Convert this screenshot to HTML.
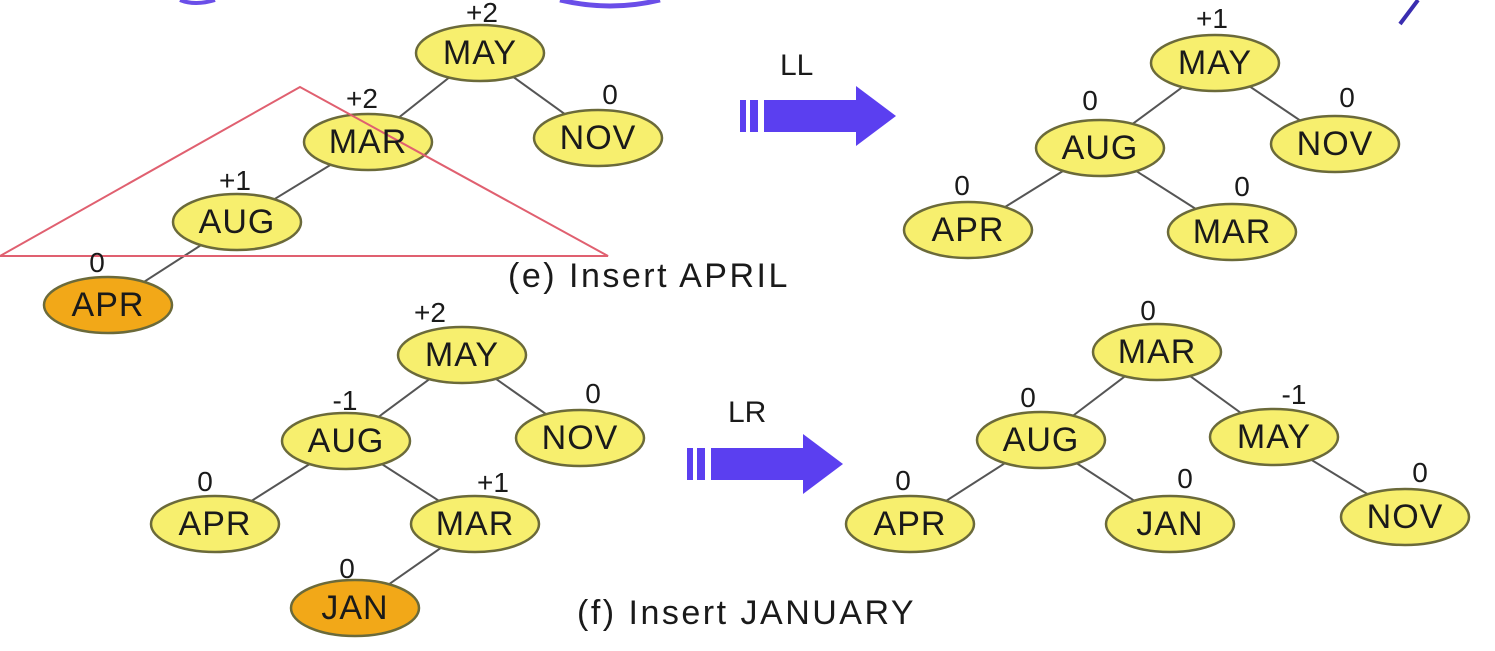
<!DOCTYPE html>
<html><head><meta charset="utf-8"><style>
html,body{margin:0;padding:0;background:#fff;}
svg{display:block;}
text{font-family:"Liberation Sans",sans-serif;fill:#1a1a1a;}
.n{font-size:34px;text-anchor:middle;dominant-baseline:central;letter-spacing:1px;}
.b{font-size:28px;text-anchor:middle;}
.c{font-size:34px;letter-spacing:2.5px;}
</style></head><body>
<svg width="1495" height="651" viewBox="0 0 1495 651" xmlns="http://www.w3.org/2000/svg">
<defs>
<g id="arrow">
<rect x="0" y="0" width="6" height="32" fill="#5b3ff0"/>
<rect x="10" y="0" width="8" height="32" fill="#5b3ff0"/>
<rect x="24" y="0" width="94" height="32" fill="#5b3ff0"/>
<polygon points="116,-14 156,16 116,46" fill="#5b3ff0"/>
</g>
</defs>
<path d="M180 0 Q195 6 215 0" stroke="#6a4ee8" stroke-width="4" fill="none"/>
<path d="M560 0 Q610 12 660 0" stroke="#6a4ee8" stroke-width="5" fill="none"/>
<path d="M1418 0 L1400 24" stroke="#3a2db0" stroke-width="4" fill="none"/>

<g stroke="#555" stroke-width="2" fill="none">
<line x1="480" y1="53" x2="368" y2="142"/><line x1="480" y1="53" x2="598" y2="138"/>
<line x1="368" y1="142" x2="237" y2="222"/><line x1="237" y1="222" x2="108" y2="305"/>
<line x1="1215" y1="63" x2="1100" y2="148"/><line x1="1215" y1="63" x2="1335" y2="144"/>
<line x1="1100" y1="148" x2="968" y2="230"/><line x1="1100" y1="148" x2="1232" y2="232"/>
<line x1="462" y1="355" x2="346" y2="441"/><line x1="462" y1="355" x2="580" y2="438"/>
<line x1="346" y1="441" x2="215" y2="524"/><line x1="346" y1="441" x2="475" y2="524"/>
<line x1="475" y1="524" x2="355" y2="608"/>
<line x1="1157" y1="352" x2="1041" y2="440"/><line x1="1157" y1="352" x2="1274" y2="437"/>
<line x1="1041" y1="440" x2="910" y2="524"/><line x1="1041" y1="440" x2="1170" y2="524"/>
<line x1="1274" y1="437" x2="1405" y2="517"/>
</g>

<g stroke="#6b6a3a" stroke-width="2.5" fill="#f7ef6e">
<ellipse cx="480" cy="53" rx="64" ry="28"/>
<ellipse cx="368" cy="142" rx="64" ry="28"/>
<ellipse cx="598" cy="138" rx="64" ry="28"/>
<ellipse cx="237" cy="222" rx="64" ry="28"/>
<ellipse cx="108" cy="305" rx="64" ry="28" fill="#f2a818"/>
<ellipse cx="1215" cy="63" rx="64" ry="28"/>
<ellipse cx="1100" cy="148" rx="64" ry="28"/>
<ellipse cx="1335" cy="144" rx="64" ry="28"/>
<ellipse cx="968" cy="230" rx="64" ry="28"/>
<ellipse cx="1232" cy="232" rx="64" ry="28"/>
<ellipse cx="462" cy="355" rx="64" ry="28"/>
<ellipse cx="346" cy="441" rx="64" ry="28"/>
<ellipse cx="580" cy="438" rx="64" ry="28"/>
<ellipse cx="215" cy="524" rx="64" ry="28"/>
<ellipse cx="475" cy="524" rx="64" ry="28"/>
<ellipse cx="355" cy="608" rx="64" ry="28" fill="#f2a818"/>
<ellipse cx="1157" cy="352" rx="64" ry="28"/>
<ellipse cx="1041" cy="440" rx="64" ry="28"/>
<ellipse cx="1274" cy="437" rx="64" ry="28"/>
<ellipse cx="910" cy="524" rx="64" ry="28"/>
<ellipse cx="1170" cy="524" rx="64" ry="28"/>
<ellipse cx="1405" cy="517" rx="64" ry="28"/>
</g>

<polygon points="300,87 0,256 608,256" fill="none" stroke="#e06070" stroke-width="2"/>

<g class="n">
<text x="480" y="53">MAY</text><text x="368" y="142">MAR</text><text x="598" y="138">NOV</text>
<text x="237" y="222">AUG</text><text x="108" y="305">APR</text>
<text x="1215" y="63">MAY</text><text x="1100" y="148">AUG</text><text x="1335" y="144">NOV</text>
<text x="968" y="230">APR</text><text x="1232" y="232">MAR</text>
<text x="462" y="355">MAY</text><text x="346" y="441">AUG</text><text x="580" y="438">NOV</text>
<text x="215" y="524">APR</text><text x="475" y="524">MAR</text><text x="355" y="608">JAN</text>
<text x="1157" y="352">MAR</text><text x="1041" y="440">AUG</text><text x="1274" y="437">MAY</text>
<text x="910" y="524">APR</text><text x="1170" y="524">JAN</text><text x="1405" y="517">NOV</text>
</g>

<g class="b">
<text x="482" y="22">+2</text><text x="362" y="108">+2</text><text x="610" y="104">0</text>
<text x="235" y="190">+1</text><text x="97" y="272">0</text>
<text x="1212" y="28">+1</text><text x="1090" y="110">0</text><text x="1347" y="107">0</text>
<text x="962" y="195">0</text><text x="1242" y="196">0</text>
<text x="430" y="322">+2</text><text x="345" y="410">-1</text><text x="593" y="403">0</text>
<text x="205" y="491">0</text><text x="493" y="492">+1</text><text x="347" y="578">0</text>
<text x="1148" y="320">0</text><text x="1028" y="407">0</text><text x="1294" y="404">-1</text>
<text x="903" y="490">0</text><text x="1185" y="488">0</text><text x="1420" y="482">0</text>
</g>

<text x="780" y="75" style="font-size:30px">LL</text>
<use href="#arrow" x="740" y="100"/>
<text x="728" y="422" style="font-size:30px">LR</text>
<use href="#arrow" x="687" y="448"/>

<text class="c" x="508" y="287">(e) Insert APRIL</text>
<text class="c" x="577" y="624">(f) Insert JANUARY</text>
</svg>
</body></html>
